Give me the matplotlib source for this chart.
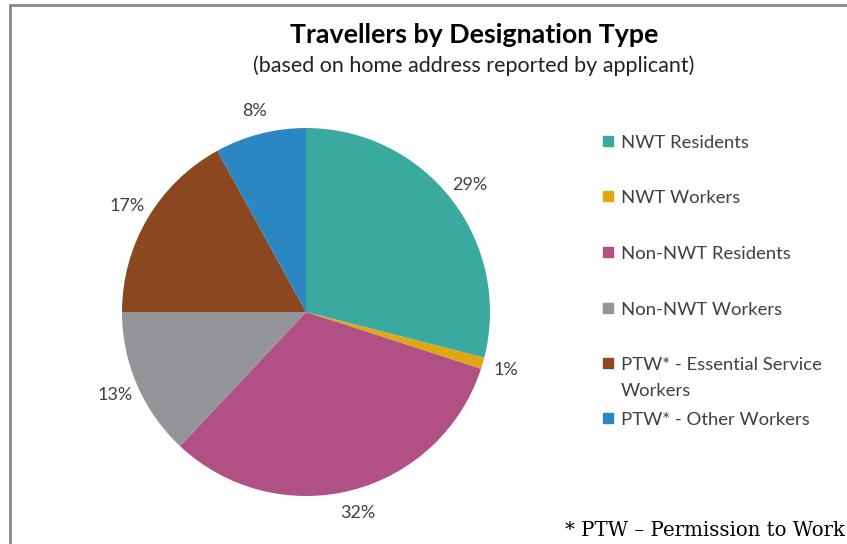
import matplotlib.pyplot as plt
from matplotlib.patches import Rectangle

categories = ['NWT Residents', 'NWT Workers', 'Non-NWT Residents',
              'Non-NWT Workers', 'PTW* - Essential Service\nWorkers',
              'PTW* - Other Workers']
shares = [29, 1, 32, 13, 17, 8]
colors = ['#3aa99f', '#e0a614', '#b05084', '#939598', '#8b4720', '#2a87c1']

W, H = 847, 544
fig = plt.figure(figsize=(W / 100, H / 100), dpi=100)
plt.rcParams['font.family'] = ['Lato', 'DejaVu Sans']

# pie axes: centre (306, 312) px, radius 184 px
cx, cy, r = 306, 312, 184
ax = fig.add_axes([(cx - r) / W, (H - cy - r) / H, 2 * r / W, 2 * r / H])
wedges, texts, autotexts = ax.pie(
    shares, colors=colors, startangle=90, counterclock=False,
    autopct='%1.0f%%', pctdistance=1.13, radius=1)
for t in autotexts:
    t.set_fontsize(13)
    t.set_color('#404040')
ax.set_xlim(-1, 1)
ax.set_ylim(-1, 1)
ax.set_aspect('equal')
ax.axis('off')

fig.text(474 / W, 1 - 35 / H, 'Travellers by Designation Type',
         ha='center', va='center', fontsize=19.3, fontweight='bold')
fig.text(474 / W, 1 - 66 / H, '(based on home address reported by applicant)',
         ha='center', va='center', fontsize=15.5, color='#222222')

# legend entries
rows = [141, 196, 252, 308, 363, 418]
for lab, col, y in zip(categories, colors, rows):
    fig.patches.append(Rectangle((603 / W, 1 - (y + 5) / H), 10 / W, 10 / H,
                                 transform=fig.transFigure, color=col))
    fig.text(621 / W, 1 - (y - 6) / H, lab, ha='left', va='top',
             fontsize=13.3, color='#404040', linespacing=1.75)

fig.text(845 / W, 1 - 530 / H, '* PTW \u2013 Permission to Work', ha='right',
         va='center', fontsize=14.2, family='DejaVu Serif', color='#000000')

# outer border (left and top visible)
fig.patches.append(Rectangle((9.5 / W, -0.1), 2, 1.1 - 5.5 / H,
                             transform=fig.transFigure, fill=False,
                             edgecolor='#888888', linewidth=2))

fig.savefig('out.png', dpi=100)
